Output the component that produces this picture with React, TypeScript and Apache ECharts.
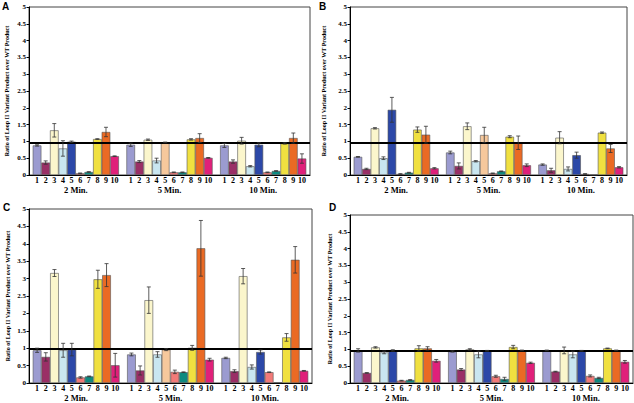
import React, { useEffect, useRef } from "react";
import * as echarts from "echarts";

const groups = ["2 Min.", "5 Min.", "10 Min."];
const barNames = ["1", "2", "3", "4", "5", "6", "7", "8", "9", "10"];
const barColors = ["#9b9bd0", "#9a2f66", "#fbf6cc", "#c9e6f0", "#2c48a8", "#f27a78", "#0e8a80", "#f0e040", "#ea6a24", "#e0207a"];
const altBar5Color = "#f6c89c";
const panelLetters = ["A", "B", "C", "D"];
const yTitle = "Ratio of Loop II Variant Product over WT Product";
const refLine = 0.97;

const aMeans = [
  [0.88, 0.37, 1.33, 0.79, 0.99, 0.05, 0.09, 1.07, 1.28, 0.56],
  [0.9, 0.4, 1.05, 0.43, 0.97, 0.08, 0.08, 1.06, 1.1, 0.51],
  [0.88, 0.4, 1.02, 0.26, 0.9, 0.08, 0.12, 0.94, 1.1, 0.49],
];
const aErrs = [
  [0.02, 0.05, 0.2, 0.23, 0.02, 0.01, 0.01, 0.01, 0.14, 0.01],
  [0.05, 0.03, 0.02, 0.07, 0.01, 0.01, 0.01, 0.02, 0.13, 0.01],
  [0.06, 0.05, 0.1, 0.02, 0.06, 0.01, 0.01, 0.02, 0.15, 0.14],
];
const bMeans = [
  [0.54, 0.18, 1.39, 0.5, 1.94, 0.03, 0.07, 1.35, 1.2, 0.2],
  [0.67, 0.27, 1.45, 0.41, 1.19, 0.05, 0.11, 1.14, 0.96, 0.29],
  [0.31, 0.14, 1.11, 0.18, 0.59, 0.03, 0.01, 1.26, 0.79, 0.23],
];
const bErrs = [
  [0.01, 0.02, 0.02, 0.04, 0.37, 0.01, 0.01, 0.08, 0.25, 0.02],
  [0.04, 0.09, 0.1, 0.02, 0.23, 0.01, 0.01, 0.03, 0.2, 0.04],
  [0.02, 0.06, 0.18, 0.06, 0.09, 0.01, 0.0, 0.02, 0.12, 0.02],
];
const cMeans = [
  [0.94, 0.75, 3.16, 0.94, 0.96, 0.16, 0.19, 2.98, 3.1, 0.51],
  [0.82, 0.36, 2.38, 0.82, 0.96, 0.32, 0.31, 1.01, 3.87, 0.67],
  [0.72, 0.34, 3.07, 0.46, 0.89, 0.31, 0.02, 1.31, 3.54, 0.35],
];
const cErrs = [
  [0.06, 0.12, 0.1, 0.2, 0.18, 0.02, 0.01, 0.26, 0.33, 0.34],
  [0.04, 0.13, 0.38, 0.08, 0.03, 0.05, 0.01, 0.07, 0.8, 0.04],
  [0.02, 0.04, 0.22, 0.06, 0.06, 0.01, 0.0, 0.11, 0.38, 0.01],
];
const dMeans = [
  [0.97, 0.3, 1.06, 0.91, 0.97, 0.07, 0.09, 1.03, 1.03, 0.66],
  [0.94, 0.4, 1.0, 0.85, 0.96, 0.2, 0.12, 1.07, 0.97, 0.6],
  [0.97, 0.34, 0.97, 0.85, 0.96, 0.21, 0.15, 1.03, 0.97, 0.63],
];
const dErrs = [
  [0.05, 0.01, 0.02, 0.04, 0.02, 0.01, 0.01, 0.08, 0.05, 0.04],
  [0.02, 0.03, 0.02, 0.1, 0.01, 0.03, 0.05, 0.05, 0.01, 0.02],
  [0.01, 0.01, 0.1, 0.1, 0.01, 0.03, 0.02, 0.01, 0.01, 0.04],
];
// panels whose "5 Min." bar 5 is drawn in the alternate (peach) colour
const altBar5Panels = [true, true, true, false];

const panelMeans = [aMeans, bMeans, cMeans, dMeans];
const panelErrs = [aErrs, bErrs, cErrs, dErrs];

const GAP = 0.08;
const SERIF = "'Liberation Serif', 'Times New Roman', serif";

const grids = [
  { left: 29, top: 7, width: 281, height: 168 },
  { left: 350, top: 7, width: 277, height: 168 },
  { left: 29, top: 209, width: 283, height: 174 },
  { left: 350, top: 215, width: 283, height: 168 },
];
const nameGaps = [19, 23, 18, 17];
const groupLabelMargins = [10.5, 10.5, 10, 10];
const letterPos = [
  [2, 1],
  [319, 1],
  [3, 202],
  [329, 202],
];

export default function App() {
  const ref = useRef<HTMLDivElement>(null);
  useEffect(() => {
    if (!ref.current) return;
    const chart = echarts.init(ref.current, null, { renderer: "svg" });
    const xAxis: any[] = [];
    const yAxis: any[] = [];
    const series: any[] = [];
    grids.forEach((g, p) => {
      xAxis.push({
        type: "category",
        gridIndex: p,
        data: groups,
        axisLine: { show: true, lineStyle: { color: "#000", width: 1 } },
        axisTick: { show: false },
        axisLabel: {
          margin: groupLabelMargins[p],
          fontFamily: SERIF,
          fontWeight: "bold",
          fontSize: 8.5,
          color: "#000",
        },
      });
      yAxis.push({
        type: "value",
        gridIndex: p,
        min: 0,
        max: 5,
        interval: 0.5,
        name: yTitle,
        nameLocation: "middle",
        nameGap: nameGaps[p],
        nameTextStyle: { fontFamily: SERIF, fontWeight: "bold", fontSize: 6, color: "#000" },
        splitLine: { show: false },
        axisLine: { show: true, lineStyle: { color: "#000", width: 1 } },
        axisTick: { show: true, length: 2.5, lineStyle: { color: "#000" } },
        axisLabel: {
          margin: 3,
          fontFamily: SERIF,
          fontWeight: "bold",
          fontSize: 7,
          color: "#000",
        },
      });
      const means = panelMeans[p];
      const errs = panelErrs[p];
      barNames.forEach((bn, i) => {
        series.push({
          type: "bar",
          name: bn,
          xAxisIndex: p,
          yAxisIndex: p,
          barGap: "0%",
          barCategoryGap: GAP * 100 + "%",
          itemStyle: { color: barColors[i], borderColor: "#555", borderWidth: 0.6 },
          label: {
            show: true,
            position: "bottom",
            distance: 1,
            formatter: bn,
            fontFamily: SERIF,
            fontWeight: "bold",
            fontSize: 8,
            lineHeight: 8,
            color: "#000",
          },
          data: groups.map((_, gi) => {
            const v = means[gi][i];
            if (i === 4 && gi === 1 && altBar5Panels[p]) {
              return { value: v, itemStyle: { color: altBar5Color } };
            }
            return v;
          }),
        });
      });
      const errData: number[][] = [];
      groups.forEach((_, gi) => {
        barNames.forEach((__, i) => {
          errData.push([gi, i, means[gi][i], errs[gi][i]]);
        });
      });
      series.push({
        type: "custom",
        xAxisIndex: p,
        yAxisIndex: p,
        z: 5,
        encode: { x: 0, y: 2 },
        data: errData,
        renderItem: (params: any, api: any) => {
          const gi = api.value(0);
          const bi = api.value(1);
          const v = api.value(2);
          const e = api.value(3);
          if (!e) return null;
          const c = api.coord([gi, v]);
          const catW = api.size([1, 0])[0];
          const groupW = catW * (1 - GAP);
          const bw = groupW / 10;
          const x = c[0] - groupW / 2 + (bi + 0.5) * bw;
          const yTop = api.coord([gi, v + e])[1];
          const yBot = api.coord([gi, Math.max(0, v - e)])[1];
          const cap = 2;
          const st = { stroke: "#333", lineWidth: 0.8 };
          return {
            type: "group",
            children: [
              { type: "line", shape: { x1: x, y1: yTop, x2: x, y2: yBot }, style: st },
              { type: "line", shape: { x1: x - cap, y1: yTop, x2: x + cap, y2: yTop }, style: st },
              { type: "line", shape: { x1: x - cap, y1: yBot, x2: x + cap, y2: yBot }, style: st },
            ],
          };
        },
        markLine: {
          silent: true,
          symbol: "none",
          label: { show: false },
          lineStyle: { color: "#000", width: 2, type: "solid" },
          data: [{ yAxis: refLine }],
        },
      });
    });
    chart.setOption({
      animation: false,
      backgroundColor: "#fff",
      grid: grids.map((g) => ({ ...g, show: true, borderColor: "#444", borderWidth: 1, backgroundColor: "transparent" })),
      xAxis,
      yAxis,
      series,
      graphic: panelLetters.map((l, p) => ({
        type: "text",
        left: letterPos[p][0],
        top: letterPos[p][1],
        style: { text: l, fontFamily: "'Liberation Sans', Arial, sans-serif", fontWeight: "bold", fontSize: 10, fill: "#000" },
      })),
    });
    return () => chart.dispose();
  }, []);
  return <div ref={ref} style={{ position: "fixed", left: 0, top: 0, width: 634, height: 403 }} />;
}
